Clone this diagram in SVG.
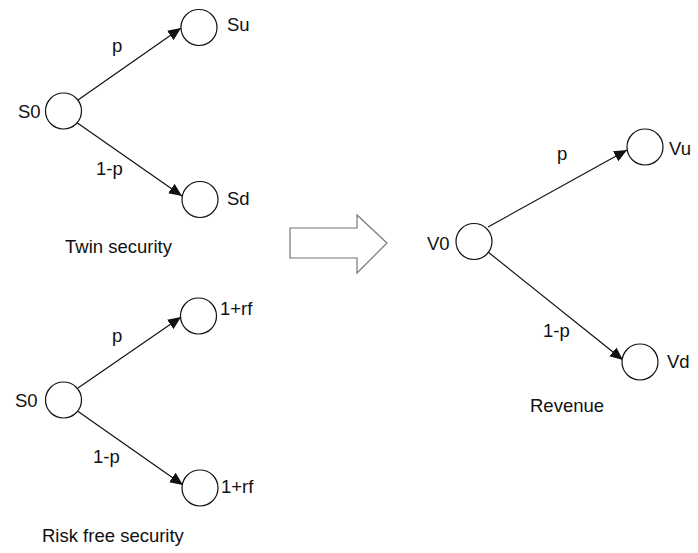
<svg xmlns="http://www.w3.org/2000/svg" width="698" height="553" viewBox="0 0 698 553">
<defs>
<style>
text{font-family:"Liberation Sans",Arial,sans-serif;font-size:18.5px;fill:#111}
.n{fill:#fff;stroke:#111;stroke-width:1.2}
.e{stroke:#111;stroke-width:1.2;fill:none;marker-end:url(#ah)}
</style>
<marker id="ah" viewBox="0 0 10 10" refX="10" refY="5" markerWidth="13" markerHeight="13" markerUnits="userSpaceOnUse" orient="auto"><path d="M0,0.6 L10,5 L0,9.4 z" fill="#111"/></marker>
</defs>
<rect width="698" height="553" fill="#fff"/>
<g id="connectors">
<line class="e" x1="78" y1="100" x2="181" y2="28"/>
<line class="e" x1="76" y1="122" x2="182" y2="196"/>
<line class="e" x1="78" y1="388" x2="181" y2="317"/>
<line class="e" x1="76" y1="410" x2="183" y2="485"/>
<line class="e" x1="488" y1="227" x2="627" y2="150"/>
<line class="e" x1="488" y1="252" x2="623" y2="360"/>
</g>
<g id="S0_top"><circle class="n" cx="63.5" cy="111" r="18"/><text x="18" y="118">S0</text></g>
<g id="Su"><circle class="n" cx="199" cy="27.5" r="18"/><text x="227" y="31">Su</text></g>
<g id="Sd"><circle class="n" cx="200" cy="199.5" r="18"/><text x="227" y="205">Sd</text></g>
<text x="112" y="52">p</text>
<text x="96" y="175">1-p</text>
<text x="65" y="253">Twin security</text>
<g id="S0_bottom"><circle class="n" cx="63.5" cy="400" r="18"/><text x="15" y="407">S0</text></g>
<g id="Rf_up"><circle class="n" cx="198.5" cy="316" r="18"/><text x="220" y="315">1+rf</text></g>
<g id="Rf_down"><circle class="n" cx="200" cy="488" r="18"/><text x="221" y="493">1+rf</text></g>
<text x="112" y="342">p</text>
<text x="93" y="463">1-p</text>
<text x="42" y="542">Risk free security</text>
<g id="arrow"><path d="M290,228 L357,228 L357,215 L387,243 L357,273 L357,258 L290,258 Z" fill="#fff" stroke="#777" stroke-width="1.2"/></g>
<g id="V0"><circle class="n" cx="474" cy="241.5" r="18"/><text x="427" y="250">V0</text></g>
<g id="Vu"><circle class="n" cx="645" cy="147" r="18"/><text x="669" y="155">Vu</text></g>
<g id="Vd"><circle class="n" cx="640" cy="362" r="18"/><text x="667" y="368">Vd</text></g>
<text x="557" y="160">p</text>
<text x="543" y="337">1-p</text>
<text x="530" y="412">Revenue</text>
</svg>
